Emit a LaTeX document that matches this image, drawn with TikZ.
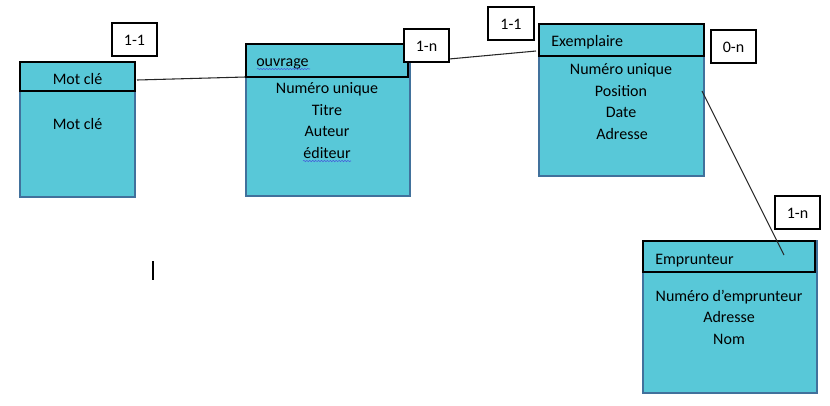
\documentclass[tikz,border=0pt]{standalone}
\usepackage{fontspec}
\setmainfont{Carlito}
\usetikzlibrary{fit,decorations.pathmorphing}
\definecolor{boxfill}{RGB}{88,200,216}
\definecolor{boxedge}{RGB}{65,113,156}
\definecolor{squig}{RGB}{70,90,220}
\begin{document}
\begin{tikzpicture}[x=0.75pt,y=-0.75pt,
  font=\fontsize{12}{14}\selectfont,
  body/.style={draw=boxedge, fill=boxfill, line width=0.9pt, inner sep=0pt},
  head/.style={draw=black, fill=boxfill, line width=0.9pt, inner sep=0pt},
  card/.style={draw=black, fill=white, line width=0.8pt, inner sep=0pt},
  txt/.style={inner sep=0pt, anchor=base},
  ltxt/.style={inner sep=0pt, anchor=base west},
  link/.style={draw=black!85, line width=0.8pt},
  squiggle/.style={draw=squig, line width=0.4pt, decorate,
    decoration={snake, segment length=2.2pt, amplitude=0.5pt}}]
\useasboundingbox (0,0) rectangle (830,405);

% Mot clé
\node[body, fit={(20,62) (135,197)}] (mcbody) {};
\node[head, fit={(20,62) (135,91)}] (mchead) {};
\node[txt] (mctitle) at (77.5,84) {Mot clé};
\node[txt] (mcattr) at (77.5,129) {Mot clé};

% ouvrage
\node[body, fit={(246,44) (410,196)}] (ovbody) {};
\node[head, fit={(246,44) (408,77)}] (ovhead) {};
\node[ltxt] (ovtitle) at (256,66) {ouvrage};
\node[txt] (ov1) at (327,93) {Numéro unique};
\node[txt] (ov2) at (327,115) {Titre};
\node[txt] (ov3) at (327,136) {Auteur};
\node[txt] (ov4) at (327,158) {éditeur};
\coordinate (sq1a) at (257,69); \coordinate (sq1b) at (310,69);
\coordinate (sq2a) at (303,161); \coordinate (sq2b) at (351,161);
\draw[squiggle] (sq1a) -- (sq1b);
\draw[squiggle] (sq2a) -- (sq2b);

% Exemplaire
\node[body, fit={(539,24) (704,176)}] (exbody) {};
\node[head, fit={(539,24) (704,56)}] (exhead) {};
\node[ltxt] (extitle) at (551,46) {Exemplaire};
\node[txt] (ex1) at (621,74) {Numéro unique};
\node[txt] (ex2) at (621,96) {Position};
\node[txt] (ex3) at (621,117) {Date};
\node[txt] (ex4) at (622,139) {Adresse};

% Emprunteur
\node[body, fit={(643,241) (817,393)}] (embody) {};
\node[head, fit={(643,241) (815,272)}] (emhead) {};
\node[ltxt] (emtitle) at (655,264) {Emprunteur};
\node[txt] (em1) at (729,301) {Numéro d’emprunteur};
\node[txt] (em2) at (729,322) {Adresse};
\node[txt] (em3) at (729,344) {Nom};

% connectors
\coordinate (l1a) at (137,80); \coordinate (l1b) at (245,77);
\coordinate (l2a) at (449,59); \coordinate (l2b) at (536,51);
\coordinate (l3a) at (702,91); \coordinate (l3b) at (784,255);
\draw[link] (l1a) -- (l1b);
\draw[link] (l2a) -- (l2b);
\draw[link] (l3a) -- (l3b);

% cardinalities
\node[card, fit={(112,23) (157,56)}] (c1) {};
\node[txt] at (134.5,45) {1-1};
\node[card, fit={(404,29) (449,62)}] (c2) {};
\node[txt] at (426.5,51) {1-n};
\node[card, fit={(488,7) (534,40)}] (c3) {};
\node[txt] at (511,29) {1-1};
\node[card, fit={(711,30) (756,63)}] (c4) {};
\node[txt] at (733.5,52) {0-n};
\node[card, fit={(775,196) (820,229)}] (c5) {};
\node[txt] at (797.5,218) {1-n};

% text cursor
\coordinate (cura) at (153,261); \coordinate (curb) at (153,280);
\draw[black, line width=0.8pt] (cura) -- (curb);
\end{tikzpicture}
\end{document}
